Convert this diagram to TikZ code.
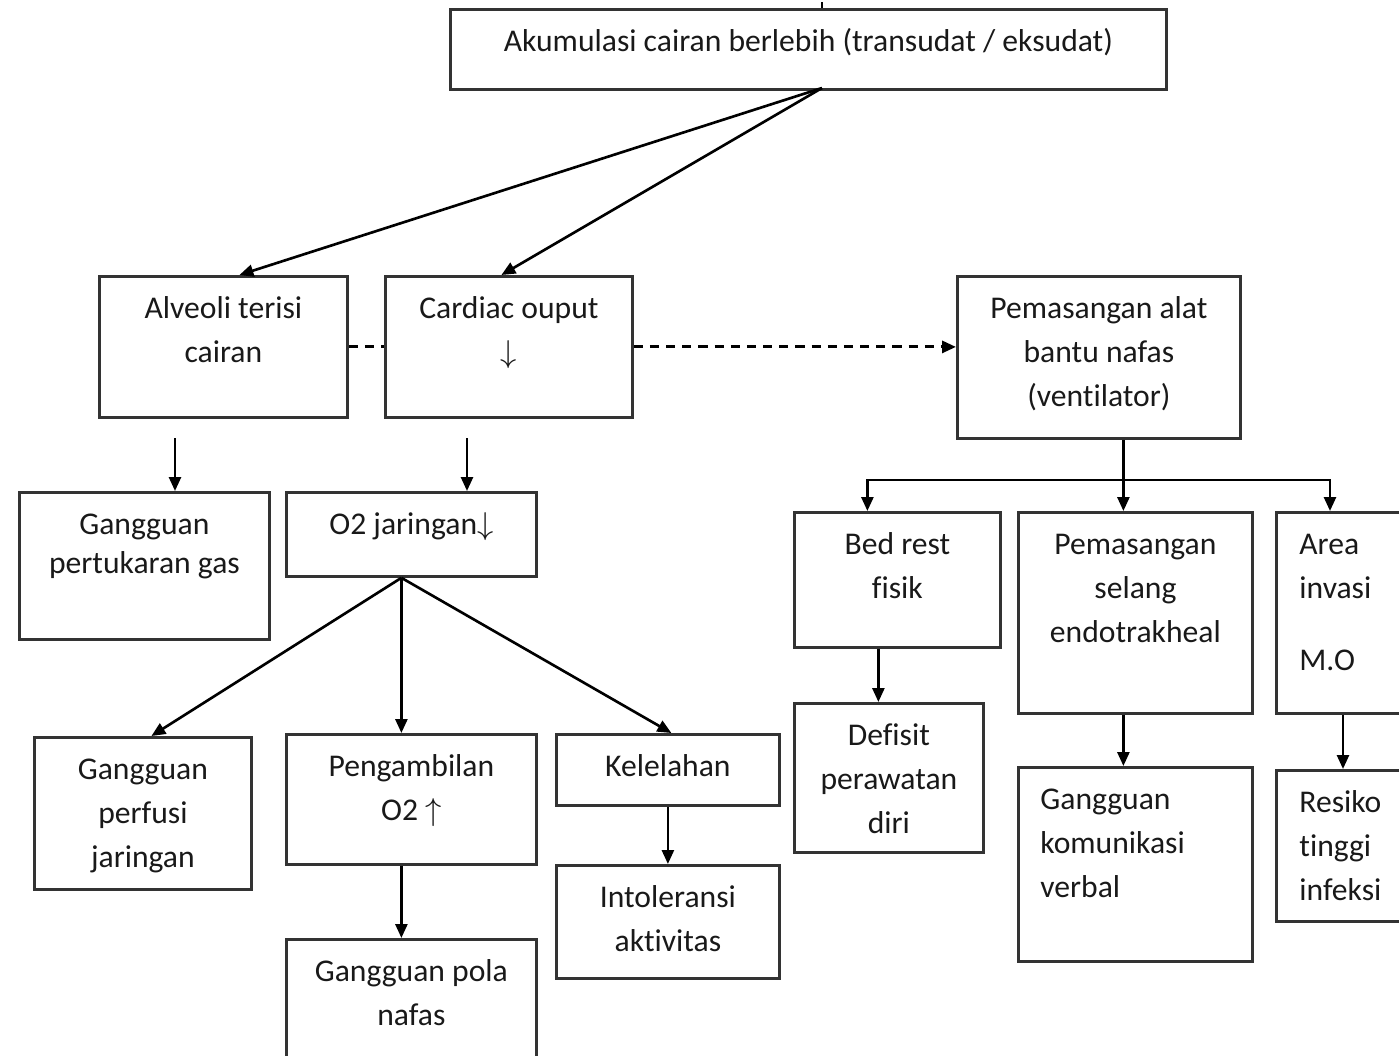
\documentclass[tikz,border=0pt]{standalone}
\usepackage{fontspec}
\setmainfont{Carlito}[Ligatures=NoCommon]
\usetikzlibrary{arrows.meta}

% box text: width, height, lines (first baseline fixed below the top edge)
\newcommand{\boxtxt}[4][\centering]{\parbox[t][#3][t]{#2}{#1\baselineskip=0.44cm\rule{0pt}{0.42cm}#4}}
\newcommand{\up}{$\uparrow$}
\newcommand{\down}{$\downarrow$}

\begin{document}
\begin{tikzpicture}[
	box/.style={draw=black!80, line width=0.8pt, inner sep=0pt, anchor=north west},
	arr/.style={-{Triangle[length=1.4mm,width=1.2mm]}, line width=0.75pt},
	dashline/.style={line width=0.85pt, dash pattern=on 2.6pt off 2pt},
	font=\fontsize{9pt}{12.5pt}\selectfont, text=black!90]
	\useasboundingbox (0,0) rectangle (13.99,-10.56);

	% top row
	\node[box] (top) at (4.49,-0.08) {\boxtxt{7.16cm}{0.80cm}{Akumulasi cairan berlebih (transudat / eksudat)}};
	\node[box] (alv) at (0.98,-2.75) {\boxtxt{2.48cm}{1.41cm}{Alveoli terisi\\cairan}};
	\node[box] (card) at (3.84,-2.75) {\boxtxt{2.47cm}{1.41cm}{Cardiac ouput\\\down}};
	\node[box] (vent) at (9.56,-2.75) {\boxtxt{2.83cm}{1.62cm}{Pemasangan alat\\bantu nafas\\(ventilator)}};

	% left branch
	\node[box] (gpg) at (0.18,-4.91) {\boxtxt{2.50cm}{1.47cm}{Gangguan\\[-0.05cm]pertukaran gas}};
	\node[box] (o2j) at (2.85,-4.91) {\boxtxt{2.50cm}{0.84cm}{O2 jaringan\down}};
	\node[box] (gpj) at (0.33,-7.36) {\boxtxt{2.17cm}{1.52cm}{Gangguan\\perfusi\\jaringan}};
	\node[box] (peng) at (2.85,-7.33) {\boxtxt{2.50cm}{1.30cm}{Pengambilan\\O2 \up}};
	\node[box] (kel) at (5.55,-7.33) {\boxtxt{2.23cm}{0.71cm}{Kelelahan}};
	\node[box] (gpn) at (2.85,-9.38) {\boxtxt{2.50cm}{1.30cm}{Gangguan pola\\nafas}};
	\node[box] (into) at (5.55,-8.64) {\boxtxt{2.23cm}{1.13cm}{Intoleransi\\aktivitas}};

	% right branch
	\node[box] (bed) at (7.93,-5.11) {\boxtxt{2.06cm}{1.35cm}{Bed rest\\fisik}};
	\node[box] (pem) at (10.17,-5.11) {\boxtxt{2.34cm}{2.01cm}{Pemasangan\\selang\\endotrakheal}};
	\node[box] (area) at (12.75,-5.11) {\boxtxt[\raggedright\leftskip=0.23cm]{1.35cm}{2.01cm}{Area\\invasi\\[0.28cm]M.O}};
	\node[box] (def) at (7.93,-7.02) {\boxtxt{1.89cm}{1.49cm}{Defisit\\perawatan\\diri}};
	\node[box] (kom) at (10.17,-7.66) {\boxtxt[\raggedright\leftskip=0.22cm]{2.34cm}{1.94cm}{Gangguan\\komunikasi\\verbal}};
	\node[box] (res) at (12.75,-7.69) {\boxtxt[\raggedright\leftskip=0.23cm]{1.35cm}{1.51cm}{Resiko\\tinggi\\infeksi}};

	% connectors
	\coordinate (hub) at (8.22,-0.88);
	\draw[line width=0.75pt] (top.north -| hub) -- ++(0,0.06);
	\draw[arr] (hub) -- ([xshift=0.16cm]alv.north);
	\draw[arr] (hub) -- ([xshift=-0.075cm]card.north);
	\draw[dashline] (alv.east) -- (card.west);
	\draw[arr, dashline] (card.east) -- (card.east -| vent.west);

	\coordinate (a1) at (1.75,-4.38);
	\coordinate (c1) at (4.67,-4.38);
	\draw[arr] (a1) -- (a1 |- gpg.north);
	\draw[arr] (c1) -- (c1 |- o2j.north);

	\coordinate (o2b) at ([xshift=-0.1cm]o2j.south);
	\draw[arr] (o2b) -- ([xshift=0.085cm]gpj.north);
	\draw[arr] (o2b) -- (o2b |- peng.north);
	\draw[arr] (o2b) -- ([xshift=0.035cm]kel.north);
	\draw[arr] (o2b |- peng.south) -- (o2b |- gpn.north);
	\draw[arr] (kel.south) -- (kel.south |- into.north);

	\coordinate (vb) at ([xshift=0.245cm]vent.south);
	\draw[line width=0.75pt] (vb) -- ++(0,-0.40) coordinate (bus);
	\draw[arr] (bus) -- (bus |- pem.north);
	\draw[arr] (bus) -| ([xshift=-0.30cm]bed.north);
	\draw[arr] (bus) -| ([xshift=0.55cm]area.north west);
	\draw[arr] ([xshift=-0.19cm]bed.south) -- ([xshift=-0.19cm]bed.south |- def.north);
	\draw[arr] (bus |- pem.south) -- (bus |- kom.north);
	\draw[arr] ([xshift=0.68cm]area.south west) -- ([xshift=0.68cm]area.south west |- res.north);
\end{tikzpicture}
\end{document}
